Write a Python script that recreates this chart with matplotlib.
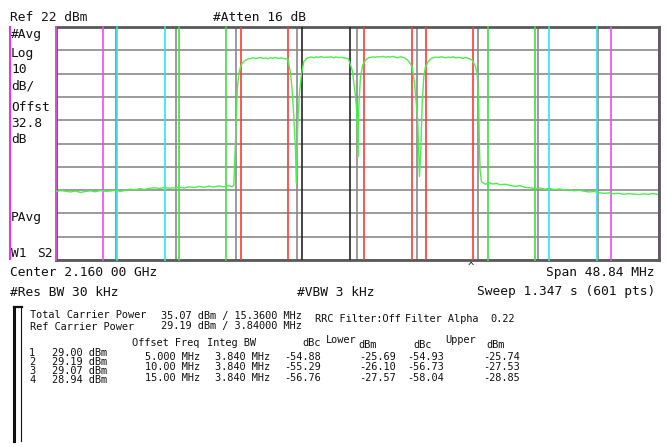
import numpy as np
import matplotlib
matplotlib.use("Agg")
import matplotlib.pyplot as plt
from matplotlib.lines import Line2D

W, H = 666, 447

# analyzer settings
ref_level = 22.0
db_per_div = 10.0
span_mhz = 48.84

# channels (MHz offset from centre)
carrier_centers = [-7.5, -2.5, 2.5, 7.5]
ref_carrier = 1
integ_bw = 3.84
offset_freqs = [5.0, 10.0, 15.0]
offset_colors = ["#3ee03e", "#2ee6e6", "#ee4cee"]

# trace: frequency (MHz) and level (dBm)
trace_freq = [
    -24.4, -24.0, -23.6, -23.2, -22.8, -22.4, -22.0, -21.6, -21.2, -20.8,
    -20.4, -20.0, -19.6, -19.2, -18.8, -18.4, -18.0, -17.6, -17.2, -16.8,
    -16.4, -16.0, -15.6, -15.2, -14.8, -14.4, -14.0, -13.6, -13.2, -12.8,
    -12.4, -12.0, -11.6, -11.2, -10.8, -10.4, -10.1,
    -9.98, -9.84, -9.70, -9.57, -9.43, -9.27, -9.03, -8.8,
    -8.6, -8.4, -8.2, -8.0, -7.8, -7.6, -7.4, -7.2, -7.0, -6.8,
    -6.6, -6.4, -6.2, -6.0, -5.8, -5.6,
    -5.38, -5.25, -5.12, -4.98, -4.92, -4.79, -4.66, -4.49, -4.31, -4.09,
    -3.9, -3.7, -3.5, -3.3, -3.1, -2.9, -2.7, -2.5, -2.3, -2.1,
    -1.9, -1.7, -1.5, -1.3, -1.1, -0.9, -0.7,
    -0.39, -0.18, -0.04, 0.04, 0.06, 0.10, 0.15, 0.28, 0.47, 0.69, 0.93,
    1.1, 1.3, 1.5, 1.7, 1.9, 2.1, 2.3, 2.5, 2.7, 2.9,
    3.1, 3.3, 3.5, 3.7, 3.9, 4.1, 4.3,
    4.47, 4.66, 4.82, 4.92, 5.00, 5.06, 5.17, 5.28, 5.41, 5.55, 5.77, 6.03,
    6.2, 6.4, 6.6, 6.8, 7.0, 7.2, 7.4, 7.6, 7.8, 8.0,
    8.2, 8.4, 8.6, 8.8, 9.0, 9.2, 9.33,
    9.60, 9.73, 9.81, 9.86, 9.91, 9.97, 10.08, 10.40,
    10.7, 11.0, 11.3, 11.6, 12.0, 12.4, 12.8, 13.2, 13.6, 14.0,
    14.4, 14.8, 15.2, 15.6, 16.0, 16.4, 16.8, 17.2, 17.6, 18.0,
    18.4, 18.8, 19.2, 19.6, 20.0, 20.4, 20.8, 21.2, 21.6, 22.0,
    22.4, 22.8, 23.2, 23.6, 24.0, 24.4,
]
trace_dbm = [
    -48.6, -48.2, -48.5, -48.8, -48.4, -49.0, -48.6, -48.3, -48.7, -48.2,
    -48.5, -48.4, -48.1, -48.5, -48.2, -47.6, -47.9, -47.4, -47.7, -47.2,
    -47.0, -47.3, -46.9, -47.2, -47.0, -46.8, -47.1, -46.6, -46.9, -46.4,
    -46.8, -46.3, -46.7, -46.2, -46.6, -46.1, -46.5,
    -46.0, -26.5, -5.0, 2.1, 5.0, 6.7, 7.8, 8.3,
    8.5, 8.8, 8.4, 8.7, 8.9, 8.5, 8.7, 8.4, 8.8, 8.6,
    8.9, 8.5, 8.7, 8.6, 8.3, 8.4,
    2.0, -5.0, -16.5, -30.8, -45.0, -18.0, -6.5, 2.0, 7.1, 8.5,
    8.9, 9.1, 8.8, 9.2, 9.0, 9.3, 8.9, 9.1, 9.0, 9.2,
    8.8, 9.1, 8.9, 9.0, 8.8, 8.6, 8.4,
    3.5, -5.0, -12.2, -25.0, -33.7, -25.0, -12.2, 0.7, 5.7, 7.8, 8.8,
    8.9, 9.2, 9.0, 9.3, 9.1, 9.4, 9.0, 9.3, 9.1, 9.4,
    9.0, 8.8, 9.2, 9.0, 8.7, 7.8, 6.4,
    5.0, -2.2, -12.2, -18.0, -32.3, -42.2, -30.8, -10.8, 0.7, 5.0, 7.1, 8.6,
    8.8, 9.1, 8.9, 9.2, 9.0, 8.8, 9.1, 8.9, 9.2, 8.7,
    9.0, 8.8, 8.5, 8.9, 8.6, 8.1, 7.8,
    5.0, 2.0, -5.0, -12.2, -28.0, -39.4, -44.4, -45.5,
    -44.8, -45.4, -45.1, -45.7, -45.5, -46.0, -46.4, -46.1, -46.8, -47.0,
    -47.4, -47.1, -47.6, -47.3, -47.8, -47.5, -48.0, -47.8, -48.3, -48.0,
    -48.5, -48.8, -48.6, -49.1, -49.4, -49.2, -49.6, -49.4, -49.8, -49.5,
    -49.7, -49.9, -49.6, -49.8, -49.5, -49.9,
]

# ACP results
carrier_powers = ["29.00", "29.19", "29.07", "28.94"]
offset_labels = ["5.000 MHz", "10.00 MHz", "15.00 MHz"]
lower_dbc = ["-54.88", "-55.29", "-56.76"]
lower_dbm = ["-25.69", "-26.10", "-27.57"]
upper_dbc = ["-54.93", "-56.73", "-58.04"]
upper_dbm = ["-25.74", "-27.53", "-28.85"]


def fx(px):
    return px / W


def fy(py):
    return 1 - py / H


fig = plt.figure(figsize=(W / 100, H / 100), dpi=100)
fig.patch.set_facecolor("white")

left, right, top, bottom = 55.5, 658.5, 27, 260
ax = fig.add_axes([fx(left), fy(bottom), (right - left) / W, (bottom - top) / H])

half = span_mhz / 2
ax.set_xlim(-half, half)
ax.set_ylim(ref_level - 10 * db_per_div, ref_level)
ax.set_xticks(np.linspace(-half, half, 11))
ax.set_yticks(np.linspace(ref_level - 10 * db_per_div, ref_level, 11))
ax.tick_params(length=0, labelbottom=False, labelleft=False)
ax.grid(True, color="#8a8a8a", lw=1.2)
ax.set_axisbelow(True)
for s in ax.spines.values():
    s.set_color("#5a5a5a")
    s.set_linewidth(2)
ax.spines["right"].set_zorder(6)

# channel integration lines
hb = integ_bw / 2
for i, c in enumerate(carrier_centers):
    col = "#262626" if i == ref_carrier else "#ff3a3a"
    ax.axvline(c - hb, color=col, lw=1.2, zorder=3)
    ax.axvline(c + hb, color=col, lw=1.2, zorder=3)

for off, col in zip(offset_freqs, offset_colors):
    for c in (carrier_centers[0] - off, carrier_centers[-1] + off):
        ax.axvline(c - hb, color=col, lw=1.2, zorder=3, clip_on=False)
        ax.axvline(c + hb, color=col, lw=1.2, zorder=3, clip_on=False)

ax.plot(trace_freq, trace_dbm, color="#4cee4c", lw=1.0, zorder=4)

# magenta bar on the left
fig.add_artist(Line2D([fx(10), fx(10)], [fy(27), fy(259)], color="#ee33ee", lw=1.5))

mono = "DejaVu Sans Mono"
big = 9.3
small = 7.4


def txt(x, y, s, size=big, ha="left"):
    fig.text(fx(x), fy(y), s, fontsize=size, family=mono, ha=ha, va="baseline", color="#111111")


txt(10, 21, "Ref 22 dBm")
txt(213, 21, "#Atten 16 dB")
for s, y in [("#Avg", 38.3), ("Log", 56.7), ("10", 73.3), ("dB/", 89.3),
             ("Offst", 111), ("32.8", 126.7), ("dB", 143.3), ("PAvg", 220.7)]:
    txt(11, y, s)
txt(11, 257, "W1")
txt(37, 257, "S2")
txt(10, 276, "Center 2.160 00 GHz")
txt(655, 276, "Span 48.84 MHz", ha="right")
txt(471, 270, "^", size=7.5, ha="center")
txt(10, 295.5, "#Res BW 30 kHz")
txt(297, 295.5, "#VBW 3 kHz")
txt(655, 295.5, "Sweep 1.347 s (601 pts)", ha="right")

# results bracket
fig.add_artist(Line2D([fx(14.5), fx(14.5)], [fy(306.5), fy(441)], color="#111111", lw=2.2))
fig.add_artist(Line2D([fx(13.5), fx(21.5)], [fy(307), fy(307)], color="#111111", lw=1.6))
fig.add_artist(Line2D([fx(21), fx(21)], [fy(306.5), fy(441)], color="#111111", lw=0.8))

txt(30, 318.5, "Total Carrier Power", small)
txt(302, 318.5, "35.07 dBm / 15.3600 MHz", small, ha="right")
txt(30, 329.5, "Ref Carrier Power", small)
txt(302, 329.5, "29.19 dBm / 3.84000 MHz", small, ha="right")
txt(315, 321.5, "RRC Filter:Off", small)
txt(405, 321.5, "Filter Alpha", small)
txt(490, 321.5, "0.22", small)

txt(132, 346.5, "Offset Freq", small)
txt(207, 346.5, "Integ BW", small)
txt(321, 346.5, "dBc", small, ha="right")
txt(326, 343, "Lower", small)
txt(358, 347.5, "dBm", small)
txt(413, 347.5, "dBc", small)
txt(445, 343, "Upper", small)
txt(486, 347.5, "dBm", small)

for i, p in enumerate(carrier_powers):
    y = 356 + 9 * i
    txt(29, y, str(i + 1), small)
    txt(52, y, p + " dBm", small)

for i in range(len(offset_labels)):
    y = 360 + 10.5 * i
    txt(200, y, offset_labels[i], small, ha="right")
    txt(215, y, "3.840 MHz", small)
    txt(321, y, lower_dbc[i], small, ha="right")
    txt(396, y, lower_dbm[i], small, ha="right")
    txt(444, y, upper_dbc[i], small, ha="right")
    txt(520, y, upper_dbm[i], small, ha="right")

fig.savefig("out.png", dpi=100)
